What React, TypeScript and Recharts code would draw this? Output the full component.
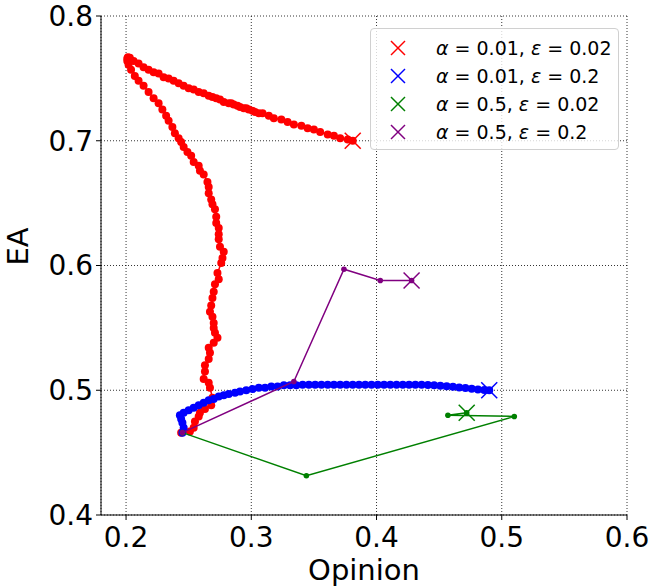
import React from 'react';
import { ScatterChart, Scatter, XAxis, YAxis, CartesianGrid } from 'recharts';

const xTicks = [0.2, 0.3, 0.4, 0.5, 0.6];
const yTicks = [0.4, 0.5, 0.6, 0.7, 0.8];

// alpha = 0.01, eps = 0.02 (start -> end)
const redPath: [number, number][] = [
  [0.244, 0.466], [0.251, 0.467], [0.254, 0.470], [0.255, 0.475], [0.258, 0.479],
  [0.259, 0.482], [0.263, 0.485], [0.268, 0.488], [0.269, 0.494], [0.267, 0.502],
  [0.266, 0.506], [0.262, 0.509], [0.263, 0.515], [0.263, 0.520], [0.266, 0.525],
  [0.267, 0.530], [0.266, 0.534], [0.270, 0.538], [0.273, 0.542], [0.271, 0.546],
  [0.270, 0.550], [0.270, 0.554], [0.269, 0.559], [0.267, 0.563], [0.268, 0.568],
  [0.269, 0.574], [0.270, 0.579], [0.271, 0.585], [0.274, 0.589], [0.273, 0.594],
  [0.276, 0.602], [0.277, 0.606], [0.278, 0.611], [0.275, 0.615], [0.274, 0.621],
  [0.274, 0.625], [0.274, 0.630], [0.272, 0.634], [0.272, 0.639], [0.271, 0.645],
  [0.269, 0.649], [0.268, 0.653], [0.266, 0.658], [0.266, 0.663], [0.265, 0.667],
  [0.262, 0.673], [0.259, 0.676], [0.258, 0.680], [0.254, 0.683], [0.252, 0.688],
  [0.249, 0.691], [0.246, 0.695], [0.244, 0.699], [0.242, 0.702], [0.239, 0.706],
  [0.237, 0.711], [0.234, 0.716], [0.232, 0.720], [0.229, 0.725], [0.226, 0.730],
  [0.222, 0.734], [0.218, 0.739], [0.214, 0.744], [0.210, 0.748], [0.207, 0.752],
  [0.204, 0.757], [0.202, 0.761], [0.201, 0.764], [0.201, 0.766], [0.2015, 0.767],
  [0.203, 0.7665], [0.206, 0.764], [0.210, 0.762], [0.214, 0.759], [0.218, 0.757],
  [0.222, 0.755], [0.226, 0.754], [0.230, 0.751], [0.234, 0.750], [0.238, 0.748],
  [0.242, 0.746], [0.246, 0.744], [0.250, 0.742], [0.254, 0.741], [0.258, 0.739],
  [0.262, 0.738], [0.266, 0.736], [0.269, 0.735], [0.272, 0.734], [0.275, 0.733],
  [0.278, 0.731], [0.282, 0.730], [0.284, 0.730], [0.286, 0.729], [0.289, 0.728],
  [0.291, 0.727], [0.294, 0.726], [0.296, 0.726], [0.298, 0.725], [0.301, 0.724],
  [0.303, 0.723], [0.306, 0.722], [0.309, 0.722], [0.314, 0.720], [0.318, 0.718],
  [0.324, 0.717], [0.329, 0.715], [0.334, 0.713], [0.340, 0.712], [0.345, 0.710],
  [0.350, 0.709], [0.355, 0.707], [0.361, 0.705], [0.366, 0.704], [0.371, 0.702],
  [0.377, 0.701], [0.381, 0.700],
];

// alpha = 0.01, eps = 0.2
const bluePath: [number, number][] = [
  [0.245, 0.466], [0.246, 0.470], [0.245, 0.474], [0.244, 0.477], [0.243, 0.480],
  [0.246, 0.482], [0.250, 0.484], [0.254, 0.486], [0.258, 0.488], [0.262, 0.490],
  [0.266, 0.492], [0.270, 0.493], [0.274, 0.495], [0.278, 0.496], [0.282, 0.497],
  [0.287, 0.498], [0.291, 0.499], [0.296, 0.500], [0.301, 0.501], [0.306, 0.502],
  [0.311, 0.502], [0.316, 0.503], [0.321, 0.503], [0.326, 0.504], [0.331, 0.504],
  [0.336, 0.504], [0.341, 0.5045], [0.346, 0.5045], [0.351, 0.5045], [0.356, 0.5045],
  [0.361, 0.5045], [0.366, 0.5045], [0.371, 0.5045], [0.376, 0.5045], [0.381, 0.5045],
  [0.386, 0.5045], [0.391, 0.5045], [0.396, 0.5045], [0.401, 0.5045], [0.406, 0.5045],
  [0.411, 0.5045], [0.416, 0.5045], [0.421, 0.5045], [0.426, 0.5045], [0.431, 0.5045],
  [0.436, 0.5044], [0.441, 0.5042], [0.446, 0.504], [0.451, 0.5037], [0.456, 0.5033],
  [0.461, 0.5028], [0.466, 0.5023], [0.471, 0.5018], [0.476, 0.5012], [0.481, 0.5007],
  [0.486, 0.5002], [0.490, 0.500],
];

// alpha = 0.5, eps = 0.02
const greenPath: [number, number][] = [
  [0.245, 0.466], [0.344, 0.4315], [0.510, 0.479], [0.457, 0.480], [0.472, 0.482],
];

// alpha = 0.5, eps = 0.2
const purplePath: [number, number][] = [
  [0.245, 0.466], [0.334, 0.507], [0.374, 0.597], [0.403, 0.588], [0.428, 0.588],
];

const series = [
  { key: 'red', alpha: '0.01', eps: '0.02', color: '#ff0000', path: redPath, r: 4, w: 1.5 },
  { key: 'blue', alpha: '0.01', eps: '0.2', color: '#0000ff', path: bluePath, r: 4, w: 1.5 },
  { key: 'green', alpha: '0.5', eps: '0.02', color: '#008000', path: greenPath, r: 2.8, w: 1.5 },
  { key: 'purple', alpha: '0.5', eps: '0.2', color: '#800080', path: purplePath, r: 2.8, w: 1.5 },
];

const toPoints = (p: [number, number][]) => p.map(([x, y]) => ({ x, y }));

const dot = (color: string, r: number) => (props: any) =>
  <circle cx={props.cx} cy={props.cy} r={r} fill={color} />;

const cross = (color: string, s: number) => (props: any) => {
  const { cx, cy } = props;
  return (
    <g stroke={color} strokeWidth={1.5}>
      <line x1={cx - s} y1={cy - s} x2={cx + s} y2={cy + s} />
      <line x1={cx - s} y1={cy + s} x2={cx + s} y2={cy - s} />
    </g>
  );
};

const font = 'DejaVu Sans';

const LegendBox = () => (
  <div
    style={{
      position: 'absolute', left: 370, top: 28, width: 249, height: 122,
      border: '1px solid #d0d0d0', borderRadius: 4, background: 'rgba(255,255,255,0.8)',
      boxSizing: 'border-box', fontFamily: font, fontSize: 19, color: '#000', paddingTop: 5,
    }}
  >
    {series.map((s) => (
      <div key={s.key} style={{ display: 'flex', alignItems: 'center', height: 28 }}>
        <svg width={16} height={16} style={{ marginLeft: 19, marginRight: 30 }}>
          <line x1={1} y1={1} x2={15} y2={15} stroke={s.color} strokeWidth={1.5} />
          <line x1={1} y1={15} x2={15} y2={1} stroke={s.color} strokeWidth={1.5} />
        </svg>
        <span>
          <i>α</i> = {s.alpha}, <i>ε</i> = {s.eps}
        </span>
      </div>
    ))}
  </div>
);

export default function App() {
  return (
    <div style={{ position: 'absolute', left: 0, top: 0, width: 650, height: 586, background: '#fff' }}>
      <ScatterChart width={650} height={586} margin={{ top: 16, right: 23, bottom: 0, left: 0 }} style={{ fontFamily: font }}>
        <CartesianGrid stroke="#000" strokeDasharray="1 2" strokeWidth={0.8} />
        <XAxis
          type="number" dataKey="x" domain={[0.18, 0.6]} ticks={xTicks} allowDataOverflow
          height={71} tickFormatter={(v: number) => v.toFixed(1)}
          tick={{ fill: '#000', fontSize: 28 }} tickSize={5} tickMargin={7}
          stroke="#000" axisLine={{ stroke: '#000', strokeWidth: 1 }}
          label={{ value: 'Opinion', position: 'insideBottom', offset: 6, fill: '#000', fontSize: 29 }}
        />
        <XAxis xAxisId="top" orientation="top" type="number" domain={[0.18, 0.6]} height={0}
          tick={false} tickLine={false} stroke="#000" />
        <YAxis
          type="number" dataKey="y" domain={[0.4, 0.8]} ticks={yTicks} allowDataOverflow
          width={101} tickFormatter={(v: number) => v.toFixed(1)}
          tick={{ fill: '#000', fontSize: 28 }} tickSize={5} tickMargin={3}
          stroke="#000"
          label={{ value: 'EA', angle: -90, position: 'insideLeft', offset: 18, fill: '#000', fontSize: 29 }}
        />
        <YAxis yAxisId="right" orientation="right" type="number" domain={[0.4, 0.8]} width={0}
          tick={false} tickLine={false} stroke="#000" />
        {series.map((s) => (
          <Scatter
            key={s.key} name={s.key} data={toPoints(s.path)} fill={s.color}
            line={{ stroke: s.color, strokeWidth: s.w }} lineType="joint"
            shape={dot(s.color, s.r)} isAnimationActive={false}
          />
        ))}
        {series.map((s) => (
          <Scatter
            key={s.key + '-end'} name={s.key + ' end'} data={toPoints(s.path.slice(-1))}
            fill={s.color} shape={cross(s.color, 8)} isAnimationActive={false}
          />
        ))}
      </ScatterChart>
      <LegendBox />
    </div>
  );
}
